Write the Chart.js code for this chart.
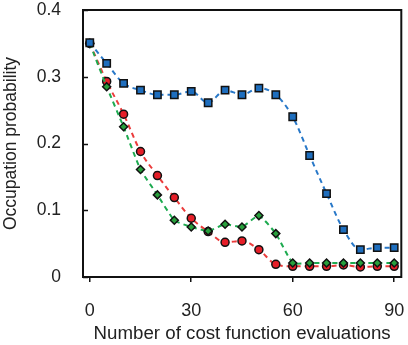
<!DOCTYPE html>
<html>
<head>
<meta charset="utf-8">
<script src="https://cdn.jsdelivr.net/npm/chart.js@4/dist/chart.umd.min.js"></script>
<style>
  html, body { margin: 0; padding: 0; background: #fff; }
  #wrap { width: 408px; height: 345px; }
</style>
</head>
<body>
<div id="wrap"><canvas id="grafico"></canvas></div>
<script>
// Datos
const evaluaciones = [0, 5, 10, 15, 20, 25, 30, 35, 40, 45, 50, 55, 60, 65, 70, 75, 80, 85, 90];
const serieAzul  = [0.351, 0.320, 0.290, 0.280, 0.273, 0.273, 0.278, 0.261, 0.280, 0.273, 0.283, 0.273, 0.240, 0.182, 0.125, 0.071, 0.041, 0.044, 0.044];
const serieVerde = [0.350, 0.285, 0.225, 0.161, 0.123, 0.085, 0.075, 0.069, 0.079, 0.075, 0.092, 0.065, 0.021, 0.021, 0.021, 0.021, 0.021, 0.021, 0.021];
const serieRoja  = [0.350, 0.293, 0.244, 0.188, 0.152, 0.119, 0.088, 0.068, 0.052, 0.054, 0.041, 0.019, 0.016, 0.016, 0.016, 0.018, 0.015, 0.016, 0.016];
const ticksX = [0, 30, 60, 90];
const ticksY = [0, 0.1, 0.2, 0.3, 0.4];

const toPts = (arr) => arr.map((v, i) => ({ x: evaluaciones[i], y: v }));

// Marco y marcas hacia dentro del eje y
const marcoPlugin = {
  id: 'marco',
  afterDatasetsDraw(chart) {
    const { ctx, chartArea: a, scales } = chart;
    ctx.save();
    ctx.strokeStyle = '#111';
    ctx.lineWidth = 1.5;
    ticksY.forEach(v => {
      const y = Math.round(scales.y.getPixelForValue(v)) + 0.5;
      ctx.beginPath();
      ctx.moveTo(a.left, y);
      ctx.lineTo(a.left + 5, y);
      ctx.stroke();
    });
    ctx.lineWidth = 2;
    ctx.strokeRect(a.left, a.top, a.right - a.left, a.bottom - a.top);
    ctx.restore();
  }
};

const fuente = 'Liberation Sans, Arial, sans-serif';

new Chart(document.getElementById('grafico'), {
  type: 'line',
  data: {
    datasets: [
      {
        data: toPts(serieAzul),
        borderColor: 'rgb(40,120,200)',
        backgroundColor: 'rgb(30,110,190)',
        borderDash: [5, 4],
        borderWidth: 2,
        tension: 0.4,
        cubicInterpolationMode: 'monotone',
        pointStyle: 'rect',
        pointRadius: 5.2,
        pointBorderColor: '#111',
        pointBorderWidth: 1.5
      },
      {
        data: toPts(serieVerde),
        borderColor: 'rgb(30,170,80)',
        backgroundColor: 'rgb(40,160,60)',
        borderDash: [5, 4],
        borderWidth: 2,
        tension: 0.15,
        pointStyle: 'rectRot',
        pointRadius: 4,
        pointBorderColor: '#111',
        pointBorderWidth: 1.5
      },
      {
        data: toPts(serieRoja),
        borderColor: 'rgb(235,60,60)',
        backgroundColor: 'rgb(230,30,40)',
        borderDash: [5, 4],
        borderWidth: 2,
        tension: 0.4,
        cubicInterpolationMode: 'monotone',
        pointStyle: 'circle',
        pointRadius: 4,
        pointBorderColor: '#111',
        pointBorderWidth: 1.5
      }
    ]
  },
  options: {
    responsive: true,
    maintainAspectRatio: false,
    animation: false,
    layout: { padding: { top: 10, right: 3, left: 0, bottom: 0 } },
    plugins: {
      legend: { display: false },
      tooltip: { enabled: false }
    },
    scales: {
      x: {
        type: 'linear',
        min: -2,
        max: 92.1,
        afterBuildTicks: (s) => { s.ticks = ticksX.map(v => ({ value: v })); },
        afterFit: (s) => { s.height = 68; s.paddingLeft = 0; s.paddingRight = 0; },
        border: { display: false },
        grid: { drawOnChartArea: false, drawTicks: true, tickLength: 5, color: '#111', lineWidth: 1.5 },
        ticks: { color: '#222', font: { family: fuente, size: 18 }, padding: 18, maxRotation: 0 },
        title: { display: true, text: 'Number of cost function evaluations', color: '#222', font: { family: fuente, size: 18.7 }, padding: { top: 0, bottom: 0 } }
      },
      y: {
        min: 0,
        max: 0.4,
        afterBuildTicks: (s) => { s.ticks = ticksY.map(v => ({ value: v })); },
        afterFit: (s) => { s.width = 83; s.paddingTop = 0; s.paddingBottom = 0; },
        border: { display: false },
        grid: { display: false, drawTicks: false },
        ticks: { color: '#222', font: { family: fuente, size: 17.5 }, padding: 22, callback: (v) => String(v) },
        title: { display: true, text: 'Occupation probability', color: '#222', font: { family: fuente, size: 17.5 }, padding: { top: 1, bottom: 0 } }
      }
    }
  },
  plugins: [marcoPlugin]
});
</script>
</body>
</html>
